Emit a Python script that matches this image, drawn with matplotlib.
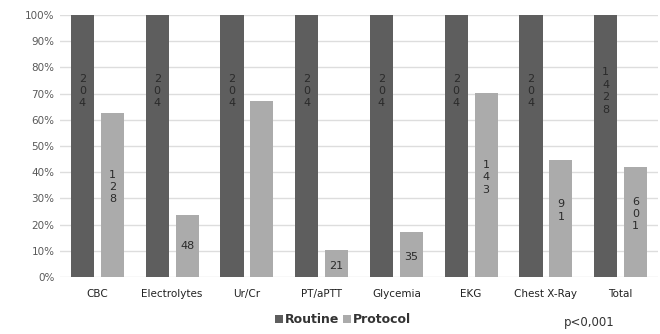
import matplotlib.pyplot as plt
import numpy as np

categories = ['CBC', 'Electrolytes', 'Ur/Cr', 'PT/aPTT', 'Glycemia', 'EKG', 'Chest X-Ray', 'Total']
routine_pct = [100, 100, 100, 100, 100, 100, 100, 100]
protocol_pct = [62.7, 23.5, 67.2, 10.3, 17.2, 70.1, 44.6, 42.1]
routine_labels = ['204', '204', '204', '204', '204', '204', '204', '1428']
protocol_labels = ['128', '48', '', '21', '35', '143', '91', '601']

dark = '#5e5e5e'
light = '#ababab'

fig = plt.figure(figsize=(6.6, 3.34), dpi=100)
ax = fig.add_axes([0.091, 0.171, 0.906, 0.784])

x = np.arange(len(categories))
w = 0.31
off = 0.2

ax.bar(x - off, routine_pct, w, color=dark, label='Routine', zorder=3)
ax.bar(x + off, protocol_pct, w, color=light, label='Protocol', zorder=3)

def vlabel(s):
	# Excel wrapped the numbers one digit per line in narrow bars
	return '\n'.join(s)

for i in range(len(categories)):
	ax.text(x[i] - off, routine_pct[i] * 0.71, vlabel(routine_labels[i]), ha='center', va='center',
		fontsize=8, color='#2a2a2a', linespacing=1.3, zorder=4)
	lab = protocol_labels[i]
	if lab == '':
		continue
	if protocol_pct[i] < 20:
		t = lab
		y = protocol_pct[i] / 2 - 1
	elif protocol_pct[i] < 30:
		t = lab
		y = protocol_pct[i] / 2
	else:
		t = vlabel(lab)
		y = protocol_pct[i] / 2 + 3
	ax.text(x[i] + off, y, t, ha='center', va='center', fontsize=8, color='#2a2a2a',
		linespacing=1.3, zorder=4)

ax.set_xlim(-0.5, len(categories) - 0.5)
ax.set_ylim(0, 100)
ax.set_yticks(np.arange(0, 101, 10))
ax.set_yticklabels([f'{v}%' for v in range(0, 101, 10)], fontsize=7.5, color='#595959')
ax.set_xticks(x)
ax.set_xticklabels(categories, fontsize=7.5, color='#222222')
ax.tick_params(axis='both', length=0)
ax.tick_params(axis='x', pad=9)
ax.tick_params(axis='y', pad=4)
ax.grid(axis='y', color='#dddddd', linewidth=1, zorder=0)
for s in ax.spines.values():
	s.set_visible(False)

leg = fig.legend(loc='center', bbox_to_anchor=(0.52, 0.042), ncol=2, frameon=False,
	handlelength=0.6, handleheight=0.6, handletextpad=0.2, columnspacing=0.3,
	prop={'size': 9, 'weight': 'bold'})
for t in leg.get_texts():
	t.set_color('#333333')

fig.text(0.893, 0.033, 'p<0,001', fontsize=8.5, color='#333333', ha='center', va='center')

plt.savefig('out.png', dpi=100)
